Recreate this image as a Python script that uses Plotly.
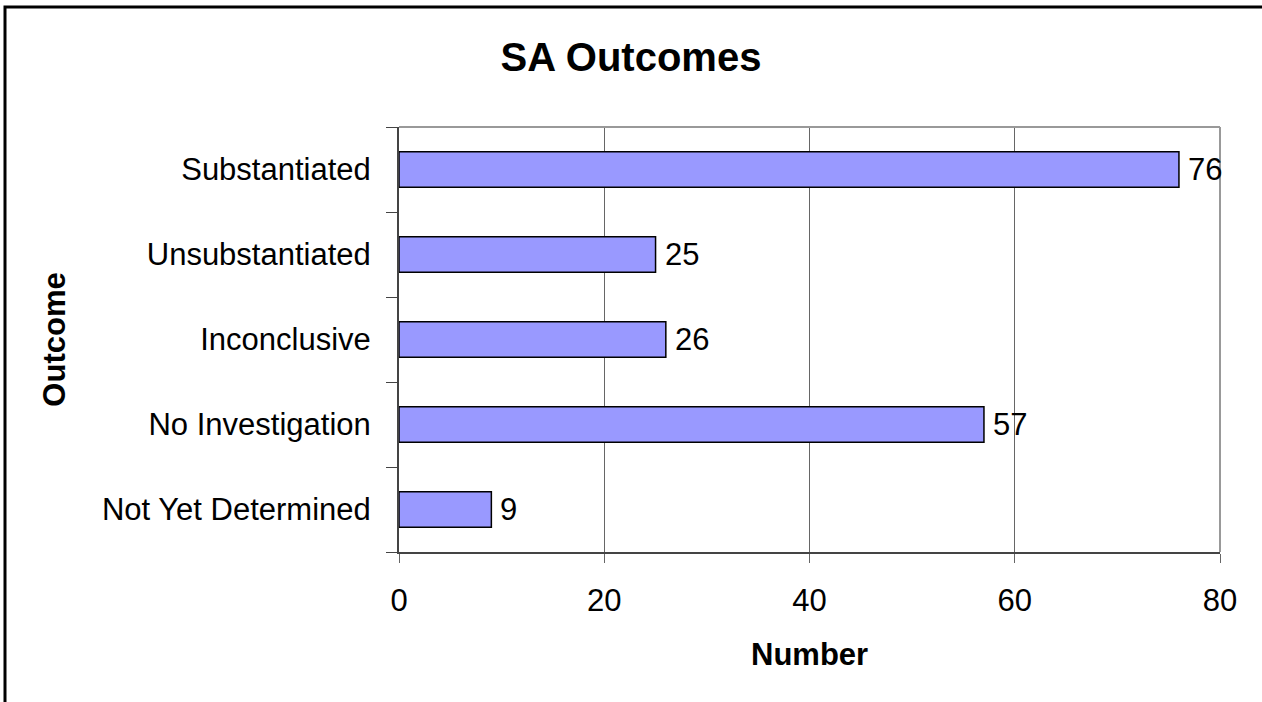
import plotly.graph_objects as go

categories = ["Substantiated", "Unsubstantiated", "Inconclusive", "No Investigation", "Not Yet Determined"]
values = [76, 25, 26, 57, 9]
x_ticks = [0, 20, 40, 60, 80]

FONT = "Liberation Sans, Arial, sans-serif"
FS = 31

fig = go.Figure(go.Bar(
    y=categories, x=values, orientation="h",
    marker=dict(color="#9999FF", line=dict(color="black", width=1.5)),
    width=0.42,
))

# value labels next to bar ends
for c, v in zip(categories, values):
    fig.add_annotation(x=v, y=c, xref="x", yref="y", text=str(v), showarrow=False,
                       xanchor="left", yanchor="middle", xshift=7,
                       font=dict(size=FS, color="black", family=FONT))

# x-axis title
fig.add_annotation(x=0.5, y=-102/425, xref="paper", yref="paper", text="<b>Number</b>",
                   showarrow=False, xanchor="center", yanchor="middle",
                   font=dict(size=FS, color="black", family=FONT))

fig.update_layout(
    width=1262, height=702,
    margin=dict(l=399, r=42, t=127, b=150),
    paper_bgcolor="white", plot_bgcolor="white",
    font=dict(family=FONT, color="black"),
    showlegend=False,
    title=dict(text="<b>SA Outcomes</b>", x=0.5, xanchor="center", y=1 - 57/702, yanchor="middle",
               font=dict(size=40, family=FONT, color="black")),
    xaxis=dict(range=[0, 80], tickvals=x_ticks, ticktext=[str(t) for t in x_ticks],
               showgrid=True, gridcolor="#666666", gridwidth=1,
               showline=True, linecolor="#444444", linewidth=2,
               ticks="outside", ticklen=9, tickcolor="#666666",
               tickfont=dict(size=FS, family=FONT, color="black"),
               ticklabelstandoff=11,
               zeroline=False, fixedrange=True),
    yaxis=dict(categoryorder="array", categoryarray=categories[::-1],
               showgrid=False, showline=True, linecolor="#444444", linewidth=2,
               ticks="outside", ticklen=11, tickcolor="#444444", tickson="boundaries",
               tickfont=dict(size=FS, family=FONT, color="black"),
               ticklabelstandoff=20,
               title=dict(text="<b>Outcome</b>", font=dict(size=FS, family=FONT, color="black"), standoff=27),
               fixedrange=True),
    shapes=[
        dict(type="line", xref="paper", yref="paper", x0=0, x1=1, y0=1, y1=1,
             line=dict(color="#999999", width=2)),
        dict(type="line", xref="paper", yref="paper", x0=1, x1=1, y0=0, y1=1,
             line=dict(color="#999999", width=2)),
    ],
)

# outer frame (extends beyond right/bottom edges like the reference)
fig.add_shape(type="rect", xref="paper", yref="paper",
              x0=-394/821, x1=1.2, y0=-0.6, y1=1 + 120/425,
              line=dict(color="black", width=3), layer="above")

fig.write_html("out.html", post_script="document.body.style.margin='0';",
               config={"displayModeBar": False})
